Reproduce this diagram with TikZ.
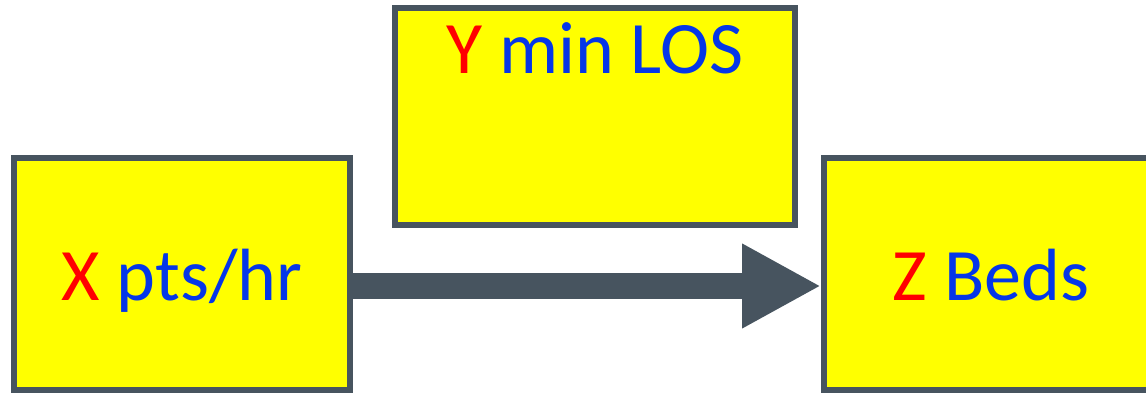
\documentclass[tikz,border=0pt]{standalone}
\usepackage{fontspec}
\setmainfont{Carlito}
\usetikzlibrary{arrows.meta}
\definecolor{boxfill}{HTML}{FFFF00}
\definecolor{edgegray}{HTML}{47545F}
\definecolor{varred}{HTML}{FF0000}
\definecolor{unitblue}{HTML}{0536E8}
\begin{document}
\begin{tikzpicture}[x=1pt,y=-1pt,
  stagebox/.style={draw=edgegray, fill=boxfill, line width=6pt, rectangle, inner sep=0pt},
  boxtext/.style={anchor=base, inner sep=0pt, font=\fontsize{74}{80}\selectfont, text=unitblue},
  flow/.style={draw=edgegray, line width=26pt, -{Triangle[length=79pt,width=79pt]}}]
  \useasboundingbox (0,0) rectangle (1146,393);
  % three stage boxes
  \node[stagebox, minimum width=336pt, minimum height=232pt] (arrivals) at (182,274) {};
  \node[stagebox, minimum width=400pt, minimum height=216pt] (stay) at (595,116.5) {};
  \node[stagebox, minimum width=334pt, minimum height=232pt] (beds) at (991,274) {};
  % labels
  \node[boxtext] (arrivalslabel) at (182,300) {\textcolor{varred}{X} pts/hr};
  \node[boxtext] (staylabel) at (595,74) {\textcolor{varred}{Y} min LOS};
  \node[boxtext] (bedslabel) at (991,300) {\textcolor{varred}{Z} Beds};
  % flow arrow, running a little below the box centres
  \draw[flow] ([yshift=-12pt]arrivals.east) -- ([yshift=-12pt]beds.west);
\end{tikzpicture}
\end{document}
